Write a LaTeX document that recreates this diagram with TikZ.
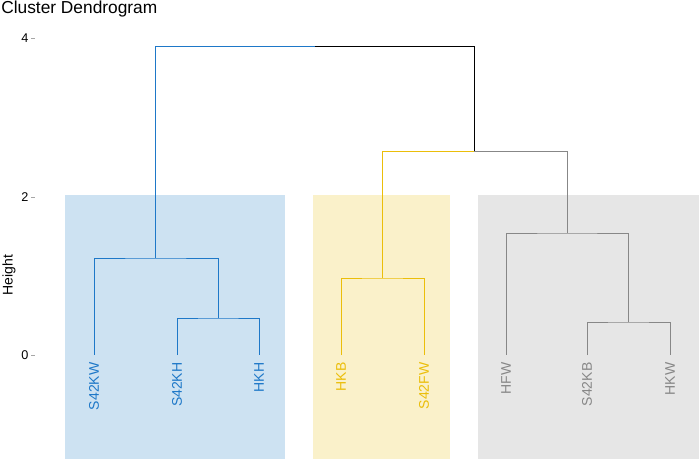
\documentclass[tikz,border=0pt]{standalone}
\usepackage{fontspec}
\setmainfont{Liberation Sans}
\usetikzlibrary{positioning}
\definecolor{cblue}{RGB}{30,120,200}
\definecolor{fblue}{RGB}{205,226,242}
\definecolor{cyel}{RGB}{235,190,10}
\definecolor{fyel}{RGB}{250,241,202}
\definecolor{cgrey}{RGB}{135,135,135}
\definecolor{fgrey}{RGB}{230,230,230}
\tikzset{%
	leaf/.style={rotate=90, anchor=east, font=\fontsize{10.5}{11}\selectfont, inner sep=1pt},
	tick/.style={anchor=east, font=\fontsize{9.5}{10}\selectfont, inner sep=1pt},
	branch/.style={line width=0.65pt}
}
\begin{document}
\begin{tikzpicture}[x=0.75pt, y=-0.75pt]
\useasboundingbox (0,0) rectangle (699,459);
% cluster boxes
\fill[fblue] (65,195) rectangle (285,459);
\fill[fyel] (313,195) rectangle (450,459);
\fill[fgrey] (478,195) rectangle (699,459);
% title and axis
\node (title) [anchor=north west, font=\fontsize{13}{14}\selectfont, inner sep=0pt] at (1,1) {Cluster Dendrogram};
\node (ylab) [rotate=90, font=\fontsize{10.5}{11}\selectfont] at (9,275) {Height};
\foreach \v/\y in {4/38, 2/197, 0/355}{
  \draw[gray!70] (31,\y) -- (35,\y);
  \node (t\v) [tick] at (30,\y) {\v};
}
% leaves
\foreach \n/\x/\c in {S42KW/94/cblue, S42KH/177/cblue, HKH/259/cblue, HKB/341/cyel, S42FW/424/cyel, HFW/506/cgrey, S42KB/587/cgrey, HKW/670/cgrey}{
  \coordinate (\n) at (\x,355);
  \node (l\n) [leaf, text=\c] at (\x,361) {\n};
}
% blue cluster
\draw[branch, cblue] (S42KH) |- (218,318) -| (HKH);
\draw[branch, cblue] (218,318) |- (155,258) -| (S42KW);
\draw[branch, cblue] (155,258) |- (315,46);
% yellow cluster
\draw[branch, cyel] (HKB) |- (382,278) -| (S42FW);
\draw[branch, cyel] (382,278) |- (474,151);
% grey cluster
\draw[branch, cgrey] (S42KB) |- (628,322) -| (HKW);
\draw[branch, cgrey] (628,322) |- (567,233) -| (HFW);
\draw[branch, cgrey] (567,233) |- (474,151);
% root
\draw[branch, black] (315,46) -| (474,151);
\end{tikzpicture}
\end{document}
